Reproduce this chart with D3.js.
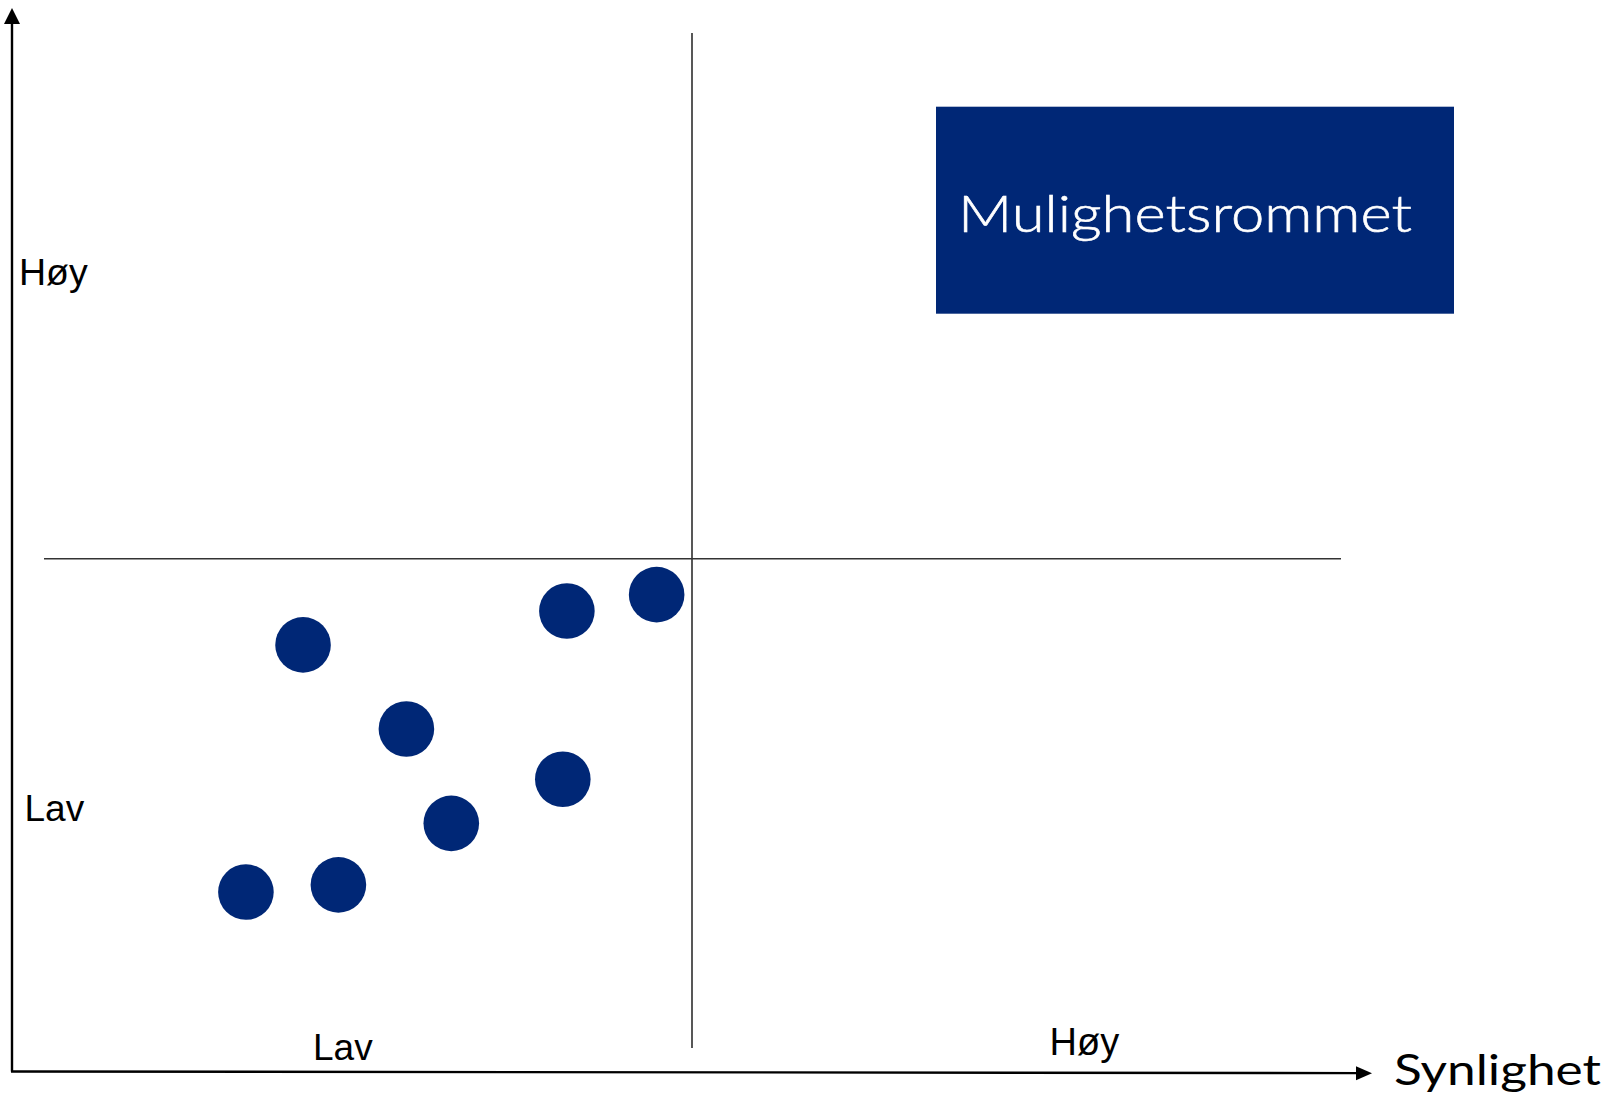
<!DOCTYPE html>
<html>
<head>
<meta charset="utf-8">
<script src="https://cdn.jsdelivr.net/npm/d3@7"></script>
<style>
  html, body { margin: 0; padding: 0; background: #ffffff; }
  svg { display: block; }
</style>
</head>
<body>
<svg id="chart" width="1608" height="1099"></svg>
<script>
// ---- data ----
const pointNames = ["A", "B", "C", "D", "E", "F", "G", "H"];
const synlighet = [2.14, 4.08, 4.74, 2.90, 4.05, 3.23, 1.72, 2.40];   // x values (0-10)
const verdi     = [4.16, 4.49, 4.65, 3.34, 2.85, 2.42, 1.75, 1.82];   // y values (0-10)
const yTickLabels = ["Lav", "Høy"];
const xTickLabels = ["Lav", "Høy"];
const xAxisTitle = "Synlighet";
const highlightLabel = "Mulighetsrommet";

const navy = "#002776";
const svg = d3.select("#chart");

const x = d3.scaleLinear().domain([0, 10]).range([12, 1372]);
const y = d3.scaleLinear().domain([0, 10]).range([1071.5, 46]);

// quadrant dividers
svg.append("line")
  .attr("x1", x(5)).attr("x2", x(5))
  .attr("y1", 33).attr("y2", 1048)
  .attr("stroke", "#111").attr("stroke-width", 1.4);
svg.append("line")
  .attr("x1", 44).attr("x2", 1341)
  .attr("y1", y(5)).attr("y2", y(5))
  .attr("stroke", "#333").attr("stroke-width", 1.6);

// y axis with arrow
svg.append("line")
  .attr("x1", x(0)).attr("x2", x(0))
  .attr("y1", y(0)).attr("y2", 20)
  .attr("stroke", "#000").attr("stroke-width", 2.4);
svg.append("path")
  .attr("d", `M${x(0)},8 L${x(0) - 8},24 L${x(0) + 8},24 Z`)
  .attr("fill", "#000");

// x axis with arrow
svg.append("line")
  .attr("x1", x(0) - 1).attr("x2", x(10) - 12)
  .attr("y1", y(0)).attr("y2", y(0) + 1.6)
  .attr("stroke", "#000").attr("stroke-width", 2.4);
svg.append("path")
  .attr("d", `M${x(10)},${y(0) + 1.7} L${x(10) - 16},${y(0) + 1.7 - 7} L${x(10) - 16},${y(0) + 1.7 + 7} Z`)
  .attr("fill", "#000");

// highlight box
const box = svg.append("g");
box.append("rect")
  .attr("x", 936).attr("y", 106.7)
  .attr("width", 518).attr("height", 207)
  .attr("fill", navy);
box.append("text")
  .attr("x", 958).attr("y", 231.7)
  .attr("font-family", "Lato, 'Open Sans', sans-serif")
  .attr("font-weight", 300)
  .attr("font-size", 52)
  .attr("fill", "#ffffff")
  .attr("stroke", "#ffffff")
  .attr("stroke-width", 0.6)
  .attr("textLength", 454)
  .attr("lengthAdjust", "spacingAndGlyphs")
  .text(highlightLabel);

// points
svg.append("g").selectAll("circle")
  .data(pointNames.map((n, i) => ({ n, sx: synlighet[i], sy: verdi[i] })))
  .join("circle")
  .attr("cx", d => x(d.sx))
  .attr("cy", d => y(d.sy))
  .attr("r", 27.8)
  .attr("fill", navy);

// labels
const labelFont = "'Liberation Sans', Arial, sans-serif";
svg.append("text").attr("x", 19).attr("y", 285)
  .attr("font-family", labelFont).attr("font-size", 37.5).attr("fill", "#000")
  .text(yTickLabels[1]);
svg.append("text").attr("x", 24.5).attr("y", 820.7)
  .attr("font-family", labelFont).attr("font-size", 37).attr("fill", "#000")
  .text(yTickLabels[0]);
svg.append("text").attr("x", 313).attr("y", 1060)
  .attr("font-family", labelFont).attr("font-size", 37).attr("fill", "#000")
  .text(xTickLabels[0]);
svg.append("text").attr("x", 1049.5).attr("y", 1055)
  .attr("font-family", labelFont).attr("font-size", 38).attr("fill", "#000")
  .text(xTickLabels[1]);
svg.append("text").attr("x", 1394).attr("y", 1085)
  .attr("font-family", "Lato, 'Open Sans', sans-serif").attr("font-size", 42).attr("fill", "#000")
  .attr("textLength", 207).attr("lengthAdjust", "spacingAndGlyphs")
  .text(xAxisTitle);
</script>
</body>
</html>
